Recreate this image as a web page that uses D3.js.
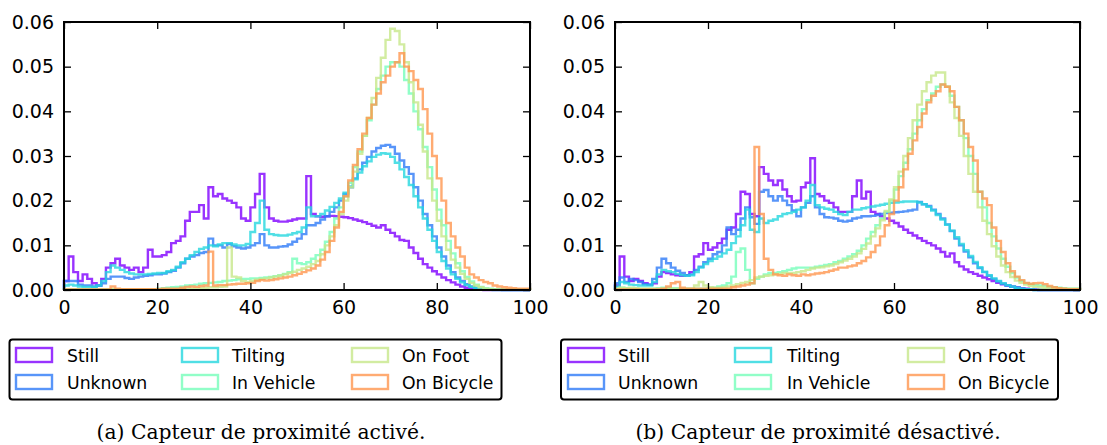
<!DOCTYPE html>
<html><head><meta charset="utf-8">
<script src="https://cdn.jsdelivr.net/npm/d3@7"></script>
<style>
html,body{margin:0;padding:0;background:#fff;}
svg{display:block;}
</style></head>
<body><svg id="c" width="1107" height="445"></svg>
<script>
// Histogram bins: x from 0 to 100, bin width 1. Values in thousandths (x 0.001).
const seriesNames = ["Still","Unknown","Tilting","In Vehicle","On Foot","On Bicycle"];
const seriesColors = ["#8000ff","#2e7bf7","#24d7df","#75feba","#c7e789","#ff964f"];
const xTicks = [0,20,40,60,80,100];
const yTicks = [0,0.01,0.02,0.03,0.04,0.05,0.06];
const captions = ["(a) Capteur de proximité activé.","(b) Capteur de proximité désactivé."];

// Panel (a): proximity sensor enabled
const stillA = [2,7.5,4,2,3.5,2.5,1.5,1,2.5,5, 6,7,5.5,5,4.5,5,4,5,9,7.5, 7.5,7.8,8.5,10.5,11,12,15.5,17.5,17.5,19, 16,23,21,21.5,20.5,20,19.5,18.5,16,15.5, 18.5,21.5,26,18.5,16,15.5,15.3,15.3,15.5,15.8, 16,16,25.5,17,16.5,16.4,16.5,16.6,16.5,16.4, 16.3,16.1,15.8,15.5,15.2,14.8,14.4,14,14.5,13.5, 12.8,12,11.2,11,9.5,8.3,7,5.8,5,4.2, 3.5,2.8,2.2,1.7,1.2,0.8,0.5,0.3,0.2,0.1, 0,0,0,0,0,0,0,0,0,0];
const unknownA = [2,2,2,1.2,1,1,0.8,1,1.5,2.5, 3,3,3,2.7,2.5,2.8,3,3.2,3.3,3.5, 3.5,3.7,4,4.3,5,6,7,7.5,7.8,8.3, 8.5,11.5,10,10,9.5,10.3,9.8,9.5,9.3,9.5, 10,10.5,12.5,10,9.5,9.5,9.7,9.8,10.2,10.8, 11.5,12.5,14.5,14.5,15,15.8,16.5,17.5,18.5,20, 21.5,23,25,27,28.5,29.8,31,31.8,32.3,32.5, 32,30.5,29,27.5,26,23,20,17,14.5,12, 9.5,7.5,5.5,4,2.8,2,1.3,0.8,0.5,0.3, 0.2,0.1,0.1,0.1,0,0,0,0,0,0];
const tiltingA = [1,1.2,1,0.8,0.7,0.7,0.7,1,2,4, 5.5,5,4.5,4,3.7,3.5,3.5,3.5,3.6,3.7, 3.8,3.8,4.2,4.5,5.2,6.2,7,7.8,8.5,9.2, 9.5,10,9.8,10.2,10.5,10.5,10.2,10,10,10.3, 13,15,20,13.5,12.5,12.3,12.2,12.2,12.4,12.7, 13,14,18.5,16.5,16.5,17,17.8,18.6,19.5,20.5, 21.8,23.2,24.8,26.3,27.7,28.8,29.8,30.3,30.6,30.5, 29.8,28.5,27,25.3,23.5,21,18.5,16,13.5,11, 8.5,6.5,4.8,3.5,2.5,1.7,1.1,0.7,0.4,0.2, 0.1,0.1,0,0,0,0,0,0,0,0];
const vehicleA = [0.2,0.2,0.2,0.2,0.2,0.2,0.2,0.2,0.2,0.2, 0.2,0.2,0.2,0.2,0.2,0.2,0.2,0.2,0.2,0.2, 0.3,0.4,0.5,0.6,0.7,0.8,1,1.1,1.2,1.4, 1.5,1.6,1.7,1.8,2,2.1,2.2,2.4,2.5,2.5, 2.6,2.6,2.7,2.8,2.9,3.1,3.3,3.6,4,7, 6,5.8,6.2,7,7.8,9,10.8,13,16,18.5, 21,24,27.5,31,34.5,38,41.5,45,48,50, 51,51,50,47,44,40,36,32,27.5,22.5, 18,14.5,11,8.2,6,4.2,2.9,1.9,1.2,0.7, 0.4,0.3,0.2,0.1,0.1,0.1,0.1,0.1,0.1,0.1];
const footA = [0.1,0.1,0.1,0.1,0.1,0.1,0.1,0.1,0.1,0.1, 0.2,0.2,0.2,0.2,0.2,0.2,0.2,0.2,0.2,0.2, 0.2,0.2,0.2,0.2,0.2,0.2,0.2,0.3,0.3,0.4, 0.5,0.6,0.6,0.7,0.8,9.5,3,2.8,2,1.8, 2,2.3,2.5,2.6,2.8,3,3.2,3.5,3.8,4.1, 4.5,4.8,5.2,5.8,6.5,8,10,12,14.5,17, 20,23,26.5,30.5,34.5,38.5,43,47.5,52,56, 58.5,58,55,51,46.5,42,37,31,25,20, 15.5,12,9,6.8,5,3.6,2.5,1.6,1,0.6, 0.3,0.2,0.1,0.1,0.1,0.1,0.1,0.1,0.1,0.1];
const bicycleA = [0.1,0.1,0.1,0.1,0.1,0.1,0.1,0.1,0.1,0.1, 0.8,0.3,0.2,0.2,0.2,0.2,0.2,0.2,0.2,0.2, 0.2,0.3,0.3,0.3,0.3,0.5,0.7,0.8,0.7,0.9, 1,8.6,1,1.1,1.1,1.2,1.3,1.4,1.4,1.5, 1.6,2,2.2,2.1,2.2,2.4,2.6,2.8,3,3.3, 3.6,4,4.4,4.8,5.5,6.8,8.5,11,14,17.5, 21,24.5,28,31.5,35,38.5,41.5,44,46.5,48, 50,51,53,50,49,47,45,40.5,35,30, 25,20,15,12,9.5,7.5,5,3.5,2.8,2.2, 1.8,1.5,1,0.8,0.6,0.5,0.4,0.3,0.3,0.3];

// Panel (b): proximity sensor disabled
const stillB = [1,7.5,3,2,2.5,2,1.5,1.2,1.5,3, 4,3.8,3.5,3.3,3.2,3.3,4,7.5,8,10.5, 9,9.5,10.5,11.5,13.5,14,17,22,21.5,17, 16.5,27.5,26,24.5,23.5,24.5,22.5,21,19.8,20, 23,24,29.5,21.5,21,20,19.5,18.5,17.5,17.5, 17.5,21,24.5,20.5,22,17.5,17,16.5,16,15.5, 15,14.2,13.5,12.8,12.2,11.6,11,10.5,10,9.3, 8.5,7.5,8.2,6.2,5.3,4.6,4,3.6,3.2,2.8, 2.4,2,1.6,1.3,1,0.8,0.6,0.4,0.3,0.2, 0.1,0,0,0,0,0,0,0,0,0];
const unknownB = [1.5,2.8,1.8,2.5,2.2,1.8,1.3,1.2,2.5,5, 7,6,5,4.3,3.8,3.3,3.5,4.5,5.2,6.2, 7,8,8.5,10,14,12.5,13.5,16,18.5,16.3, 14.8,22,22.4,21,20,21,20,19,17.8,16.5, 18.5,19.5,21,18.5,17,16.3,16.2,16,15.5,15.3, 15.5,16,16.2,16.5,16.5,16.6,16.8,17,17.2,17.3, 17.4,17.5,17.6,17.8,18,19.7,19.2,18.8,18,17, 16,14.7,13.2,11.5,10,8.6,7.3,6,4.9,4, 3.2,2.5,1.9,1.4,1,0.7,0.5,0.3,0.2,0.1, 0,0,0,0,0,0,0,0,0,0];
const tiltingB = [0.8,1.8,1.5,1.2,1.1,1,1,1,1.8,3.5, 4.5,4.2,4,3.6,3.3,3.2,3.3,4,5,5.8, 6.5,7,7.5,8.2,9,10.5,12,14.5,18,13.5, 13,16,15,15.5,15.8,16.5,17,17.2,17.5,18, 18.5,20,23.5,19,18.5,18.2,18,17.5,17,16.8, 17.5,18,18,18.3,18.5,18.7,18.9,19.1,19.3,19.5, 19.6,19.7,19.8,19.8,19.8,19.6,19.2,18.6,17.8,16.8, 15.8,14.6,13.3,11.8,10.3,8.9,7.6,6.3,5.1,4.1, 3.3,2.6,2,1.5,1.1,0.8,0.5,0.3,0.2,0.1, 0,0,0,0,0,0,0,0,0,0];
const vehicleB = [0.3,0.5,0.4,0.3,0.3,0.3,0.3,0.3,0.3,0.4, 0.5,0.5,0.4,0.4,0.3,0.3,0.3,0.3,0.3,0.3, 0.4,0.5,0.8,1,1.5,3,8.5,9.3,4.5,1.5, 2.5,3,3.5,3.8,3.8,4,4.2,4.5,4.8,5, 5,5,5,5.2,5.4,5.6,5.8,6.2,6.5,7, 7.5,8,8.8,10,11.5,13,14.5,16,17.5,20, 22.5,25.5,28.5,31.5,35,38,40.5,42.5,44,45.5, 46,45.5,43.5,41,38,34,30,26,22,18.5, 15,12,9.3,7,5.2,3.8,2.8,2,1.5,1.3, 1.1,1,0.9,0.7,0.6,0.5,0.4,0.3,0.3,0.3];
const footB = [0.3,0.5,0.4,0.5,0.4,0.3,0.3,0.3,0.3,0.3, 0.3,0.3,0.3,0.3,0.3,0.3,0.3,1,1.8,1, 0.6,0.5,0.5,0.6,0.8,1,1.3,1.6,1.8,2.2, 2.8,3,3.2,3.3,3.5,3.6,3.8,3.8,3.8,4, 4.2,4.5,4.8,5,5.1,5.3,5.5,5.8,6.2,6.6, 7,7.5,8.2,9.2,10.4,12,13.8,15.6,17.7,20.3, 23,26.5,30,34,38,41.5,44.5,46.5,48,48.7, 48.7,45.5,42,38.5,34.5,30,26,22,18.5,15.5, 12.5,9.8,7.5,5.5,4,2.9,2.1,1.6,1.2,0.9, 0.7,0.6,0.5,0.4,0.4,0.3,0.3,0.3,0.3,0.3];
const bicycleB = [0.1,0.1,0.1,0.1,0.1,0.1,0.1,0.1,0.1,0.1, 0.3,0.8,1.5,1.8,0.5,0.3,0.3,0.3,0.3,0.3, 0.3,0.3,0.3,0.3,0.3,0.6,0.8,1,1.2,1.5, 32,17,7,4.5,3.5,3.3,3.2,3.5,3.3,3.2, 3.5,3.3,3.5,3.7,3.8,4,4.3,4.6,5,5, 5.3,5.5,6,6.5,7.3,8.5,10,12,14.5,17, 20,23,27,30.5,33.5,36.5,39.5,42,43.5,44.5, 46,45.5,44.5,41,38,35,32,29,22,20.5, 19,14,11,8.5,6,4.2,3,2.2,1.6,1.4, 1.5,1.6,1.3,0.9,0.6,0.4,0.3,0.2,0.2,0.2];

const panelsData = [
  [stillA, unknownA, tiltingA, vehicleA, footA, bicycleA],
  [stillB, unknownB, tiltingB, vehicleB, footB, bicycleB]
];

const layout = [
  {x0:64, x1:530, legend:{x:9.5, w:492, col:[16, 182, 352], text:[67, 232, 402]}, capX:261},
  {x0:615, x1:1080, legend:{x:561, w:497, col:[568, 735, 908], text:[618, 787, 958]}, capX:818}
];
const plotTop = 22, plotBottom = 290;
const svg = d3.select("#c");
const FONT = "'DejaVu Sans', sans-serif";

layout.forEach((L, p) => {
  const x = d3.scaleLinear().domain([0,100]).range([L.x0, L.x1]);
  const y = d3.scaleLinear().domain([0,0.06]).range([plotBottom, plotTop]);
  const g = svg.append("g");

  const line = d3.line().curve(d3.curveStepAfter).x(d => x(d[0])).y(d => y(d[1]));
  panelsData[p].forEach((vals, si) => {
    const pts = [[0,0]];
    vals.forEach((v,i) => pts.push([i, v/1000]));
    pts.push([100, vals[vals.length-1]/1000]);
    pts.push([100, 0]);
    g.append("path").attr("d", line(pts))
      .attr("fill","none").attr("stroke", seriesColors[si])
      .attr("stroke-opacity",0.8).attr("stroke-width",2.4)
      .attr("stroke-linejoin","miter");
  });

  const ax = (gen, tr) => {
    const a = g.append("g").attr("transform", tr).call(gen);
    a.select(".domain").remove();
    a.selectAll(".tick line").attr("stroke","#000").attr("stroke-width",1.3);
    a.selectAll("text").attr("font-family",FONT).attr("font-size",19).attr("fill","#000");
    return a;
  };
  ax(d3.axisBottom(x).tickValues(xTicks).tickFormat(d3.format("d")).tickSizeInner(-7).tickSizeOuter(0).tickPadding(11), `translate(0,${plotBottom})`);
  ax(d3.axisTop(x).tickValues(xTicks).tickFormat("").tickSizeInner(-7).tickSizeOuter(0), `translate(0,${plotTop})`);
  ax(d3.axisLeft(y).tickValues(yTicks).tickFormat(d3.format(".2f")).tickSizeInner(-7).tickSizeOuter(0).tickPadding(10), `translate(${L.x0},0)`);
  ax(d3.axisRight(y).tickValues(yTicks).tickFormat("").tickSizeInner(-7).tickSizeOuter(0), `translate(${L.x1},0)`);

  g.append("rect").attr("x",L.x0).attr("y",plotTop).attr("width",L.x1-L.x0).attr("height",plotBottom-plotTop)
    .attr("fill","none").attr("stroke","#000").attr("stroke-width",2);

  const lg = svg.append("g");
  lg.append("rect").attr("x",L.legend.x).attr("y",339.5).attr("width",L.legend.w).attr("height",60)
    .attr("rx",3).attr("fill","#fff").attr("stroke","#000").attr("stroke-width",2);
  seriesNames.forEach((name, si) => {
    const col = Math.floor(si/2), row = si%2;
    const yy = 348 + row*27;
    lg.append("rect").attr("x",L.legend.col[col]).attr("y",yy).attr("width",36).attr("height",14)
      .attr("fill","none").attr("stroke",seriesColors[si]).attr("stroke-opacity",0.8).attr("stroke-width",2.4);
    lg.append("text").attr("x",L.legend.text[col]).attr("y",yy+13.5)
      .attr("font-family",FONT).attr("font-size",17.3).attr("fill","#000").text(name);
  });

  svg.append("text").attr("x",L.capX).attr("y",439).attr("text-anchor","middle")
    .attr("font-family","'DejaVu Serif', serif").attr("font-size",20.3).attr("fill","#000")
    .text(captions[p]);
});
</script>
</body></html>
